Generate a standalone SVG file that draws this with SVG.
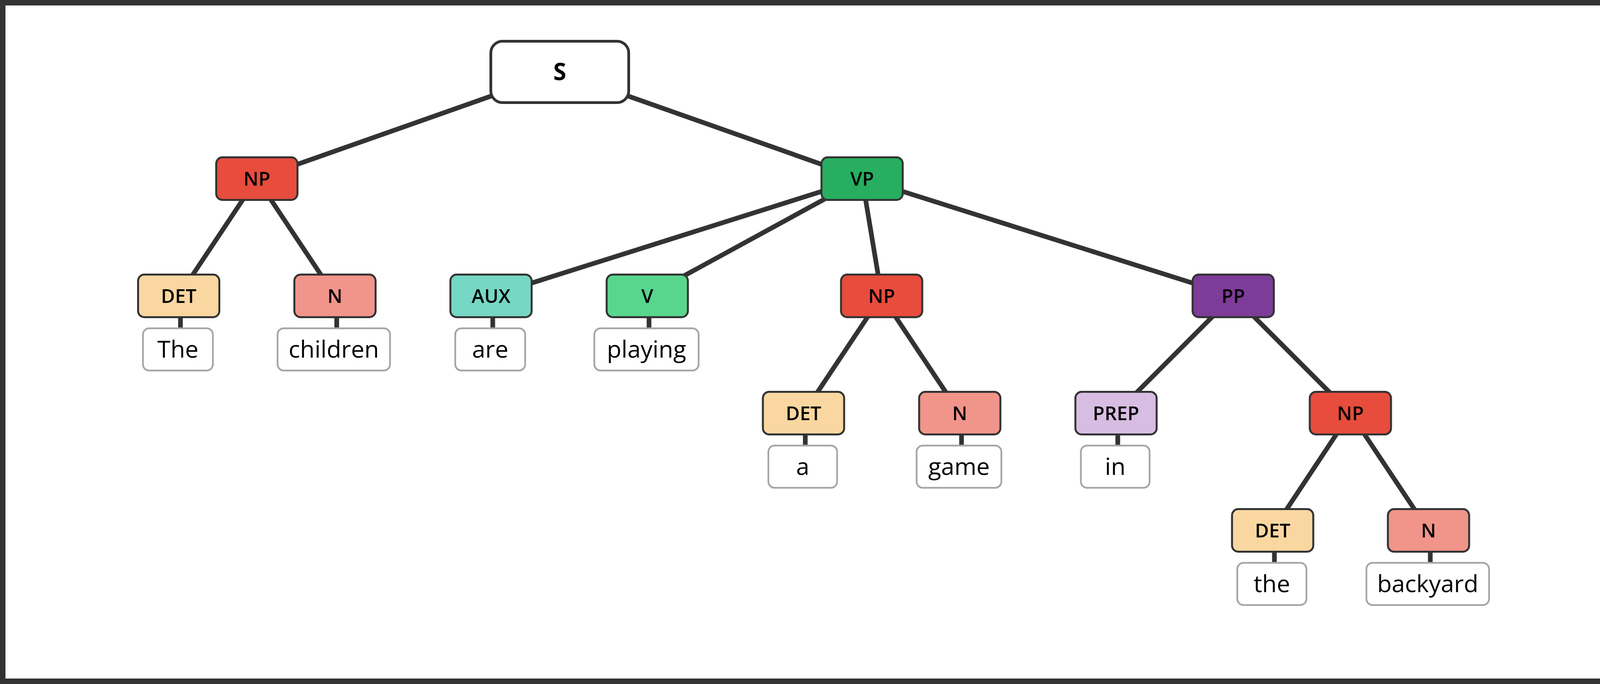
<svg xmlns="http://www.w3.org/2000/svg" width="4160" height="1750" viewBox="0 0 4160 1750">
<style>
.edge{stroke:#333333;stroke-width:12;stroke-linecap:butt;fill:none}
.stub{stroke:#333333;stroke-width:12;fill:none}
.node{stroke:#333333;stroke-width:5}
.word{fill:#ffffff;stroke:#a6a6a6;stroke-width:4.5}
.lbl{font-family:"Open Sans","Noto Sans","DejaVu Sans",sans-serif;font-size:49px;font-weight:600;fill:#000000;text-anchor:middle}
.wtx{font-family:"Open Sans","Noto Sans","DejaVu Sans",sans-serif;font-size:61px;fill:#000000;text-anchor:middle}
.root{font-family:"Open Sans","Noto Sans","DejaVu Sans",sans-serif;font-size:60px;font-weight:bold;fill:#000000;text-anchor:middle}
</style>
<rect x="0" y="0" width="4160" height="1750" fill="#ffffff"/>
<rect x="7" y="7" width="4146" height="1736" fill="none" stroke="#333333" stroke-width="14"/>
<g id="connectors">
<line class="edge" x1="1433" y1="184" x2="657.5" y2="457"/>
<line class="edge" x1="1433" y1="184" x2="2207" y2="457"/>
<line class="edge" x1="657.5" y1="457" x2="457.5" y2="757"/>
<line class="edge" x1="657.5" y1="457" x2="857.5" y2="757"/>
<line class="edge" x1="2207" y1="457" x2="1257" y2="757"/>
<line class="edge" x1="2207" y1="457" x2="1657" y2="757"/>
<line class="edge" x1="2207" y1="457" x2="2257" y2="757"/>
<line class="edge" x1="2207" y1="457" x2="3157" y2="757"/>
<line class="edge" x1="2257" y1="757" x2="2057" y2="1057"/>
<line class="edge" x1="2257" y1="757" x2="2457" y2="1057"/>
<line class="edge" x1="3157" y1="757" x2="2857" y2="1057"/>
<line class="edge" x1="3157" y1="757" x2="3457" y2="1057"/>
<line class="edge" x1="3457" y1="1057" x2="3258" y2="1357"/>
<line class="edge" x1="3457" y1="1057" x2="3657" y2="1357"/>
<line class="stub" x1="462" y1="800" x2="462" y2="850"/>
<line class="stub" x1="862" y1="800" x2="862" y2="850"/>
<line class="stub" x1="1261.5" y1="800" x2="1261.5" y2="850"/>
<line class="stub" x1="1661.5" y1="800" x2="1661.5" y2="850"/>
<line class="stub" x1="2061.5" y1="1100" x2="2061.5" y2="1150"/>
<line class="stub" x1="2461.5" y1="1100" x2="2461.5" y2="1150"/>
<line class="stub" x1="2861.5" y1="1100" x2="2861.5" y2="1150"/>
<line class="stub" x1="3262.5" y1="1400" x2="3262.5" y2="1450"/>
<line class="stub" x1="3661.5" y1="1400" x2="3661.5" y2="1450"/>
</g>
<g id="node-S">
<rect x="1256.5" y="105.5" width="353" height="157" rx="30" fill="#ffffff" stroke="#333333" stroke-width="7"/>
<text class="root" x="1433" y="205">S</text>
</g>
<g id="node-NP1">
<rect class="node" x="553.5" y="402.5" width="208" height="109" rx="16" fill="#e74c3c"/>
<text class="lbl" x="657.5" y="475">NP</text>
</g>
<g id="node-VP">
<rect class="node" x="2103" y="402.5" width="208" height="109" rx="16" fill="#27ae60"/>
<text class="lbl" x="2207" y="475">VP</text>
</g>
<g id="node-DET1">
<rect class="node" x="353.5" y="702.5" width="208" height="109" rx="16" fill="#fad7a0"/>
<text class="lbl" x="457.5" y="775">DET</text>
</g>
<g id="node-N1">
<rect class="node" x="753.5" y="702.5" width="208" height="109" rx="16" fill="#f1948a"/>
<text class="lbl" x="857.5" y="775">N</text>
</g>
<g id="node-AUX">
<rect class="node" x="1153" y="702.5" width="208" height="109" rx="16" fill="#76d7c4"/>
<text class="lbl" x="1257" y="775">AUX</text>
</g>
<g id="node-V">
<rect class="node" x="1553" y="702.5" width="208" height="109" rx="16" fill="#58d68d"/>
<text class="lbl" x="1657" y="775">V</text>
</g>
<g id="node-NP2">
<rect class="node" x="2153" y="702.5" width="208" height="109" rx="16" fill="#e74c3c"/>
<text class="lbl" x="2257" y="775">NP</text>
</g>
<g id="node-PP">
<rect class="node" x="3053" y="702.5" width="208" height="109" rx="16" fill="#7d3c98"/>
<text class="lbl" x="3157" y="775">PP</text>
</g>
<g id="node-DET2">
<rect class="node" x="1953" y="1002.5" width="208" height="109" rx="16" fill="#fad7a0"/>
<text class="lbl" x="2057" y="1075">DET</text>
</g>
<g id="node-N2">
<rect class="node" x="2353" y="1002.5" width="208" height="109" rx="16" fill="#f1948a"/>
<text class="lbl" x="2457" y="1075">N</text>
</g>
<g id="node-PREP">
<rect class="node" x="2753" y="1002.5" width="208" height="109" rx="16" fill="#d7bde2"/>
<text class="lbl" x="2857" y="1075">PREP</text>
</g>
<g id="node-NP3">
<rect class="node" x="3353" y="1002.5" width="208" height="109" rx="16" fill="#e74c3c"/>
<text class="lbl" x="3457" y="1075">NP</text>
</g>
<g id="node-DET3">
<rect class="node" x="3154" y="1302.5" width="208" height="109" rx="16" fill="#fad7a0"/>
<text class="lbl" x="3258" y="1375">DET</text>
</g>
<g id="node-N3">
<rect class="node" x="3553" y="1302.5" width="208" height="109" rx="16" fill="#f1948a"/>
<text class="lbl" x="3657" y="1375">N</text>
</g>
<g id="word-The">
<rect class="word" x="366" y="840" width="179" height="108" rx="16"/>
<text class="wtx" x="455.5" y="915">The</text>
</g>
<g id="word-children">
<rect class="word" x="710.5" y="840" width="288" height="108" rx="16"/>
<text class="wtx" x="854.5" y="915">children</text>
</g>
<g id="word-are">
<rect class="word" x="1165.5" y="840" width="179" height="108" rx="16"/>
<text class="wtx" x="1255" y="915">are</text>
</g>
<g id="word-playing">
<rect class="word" x="1521.5" y="840" width="267" height="108" rx="16"/>
<text class="wtx" x="1655" y="915">playing</text>
</g>
<g id="word-a">
<rect class="word" x="1967" y="1140" width="176" height="108" rx="16"/>
<text class="wtx" x="2055" y="1215">a</text>
</g>
<g id="word-game">
<rect class="word" x="2346.5" y="1140" width="217" height="108" rx="16"/>
<text class="wtx" x="2455" y="1215">game</text>
</g>
<g id="word-in">
<rect class="word" x="2767" y="1140" width="176" height="108" rx="16"/>
<text class="wtx" x="2855" y="1215">in</text>
</g>
<g id="word-the">
<rect class="word" x="3167.5" y="1440" width="177" height="108" rx="16"/>
<text class="wtx" x="3256" y="1515">the</text>
</g>
<g id="word-backyard">
<rect class="word" x="3498" y="1440" width="314" height="108" rx="16"/>
<text class="wtx" x="3655" y="1515">backyard</text>
</g>
</svg>
